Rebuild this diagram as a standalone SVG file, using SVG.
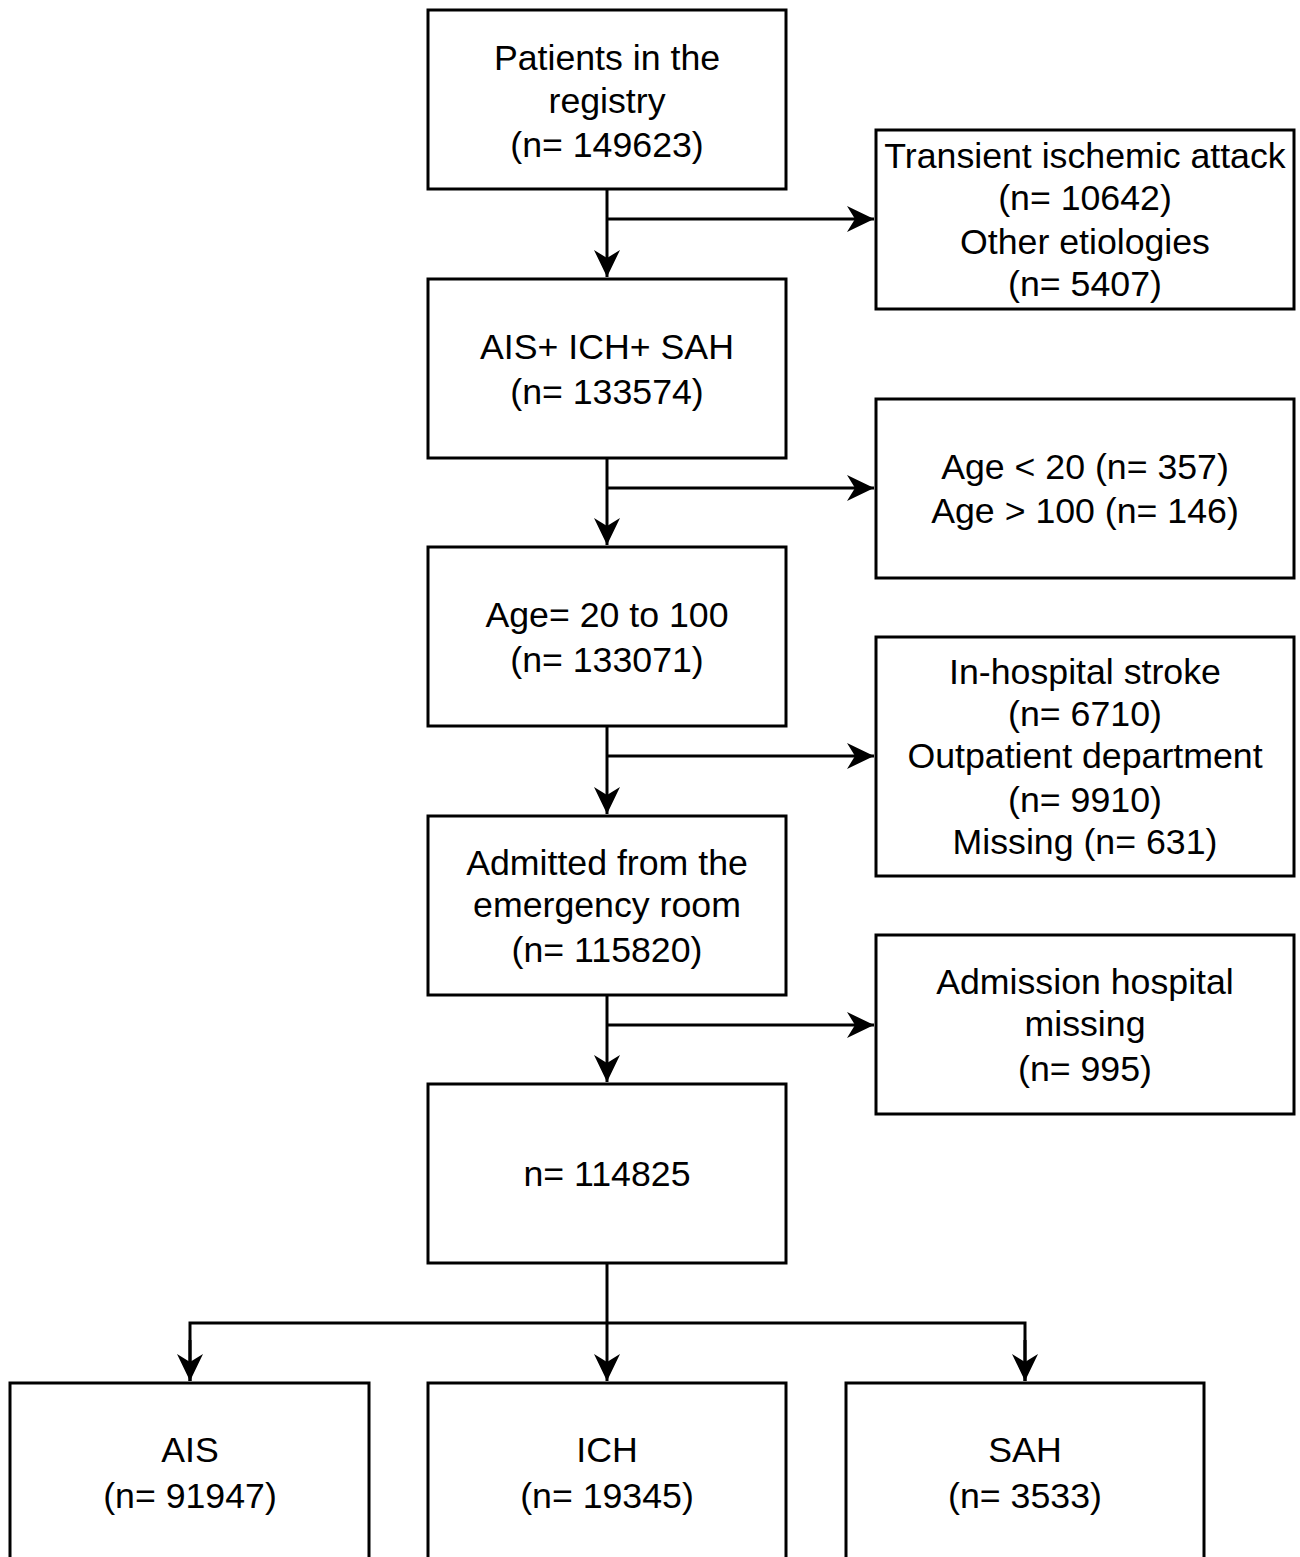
<svg xmlns="http://www.w3.org/2000/svg" width="1300" height="1557" viewBox="0 0 1300 1557">
<style>
.box{fill:#fff;stroke:#000;stroke-width:3}
.t{font-family:"Liberation Sans",Arial,sans-serif;font-size:35.7px;fill:#000;text-anchor:middle}
.c{fill:none;stroke:#000;stroke-width:3}
</style>
<defs>
<marker id="ah" markerUnits="userSpaceOnUse" markerWidth="30" markerHeight="30" viewBox="-28 -14 30 28" refX="0" refY="0" orient="auto">
<path d="M0,0 L-27,-13 L-19,0 L-27,13 Z" fill="#000"/>
</marker>
</defs>
<rect width="1300" height="1557" fill="#fff"/>
<g id="connectors">
<path class="c" d="M607,189 V277" marker-end="url(#ah)"/>
<path class="c" d="M607,219 H874" marker-end="url(#ah)"/>
<path class="c" d="M607,458 V545" marker-end="url(#ah)"/>
<path class="c" d="M607,488 H874" marker-end="url(#ah)"/>
<path class="c" d="M607,726 V814" marker-end="url(#ah)"/>
<path class="c" d="M607,756 H874" marker-end="url(#ah)"/>
<path class="c" d="M607,995 V1082" marker-end="url(#ah)"/>
<path class="c" d="M607,1025 H874" marker-end="url(#ah)"/>
<path class="c" d="M607,1263 V1381" marker-end="url(#ah)"/>
<path class="c" d="M190,1381 V1323 H1025 V1381"/>
<path class="c" d="M190,1340 V1381" marker-end="url(#ah)"/>
<path class="c" d="M1025,1340 V1381" marker-end="url(#ah)"/>
</g>
<g id="n1"><rect class="box" x="428" y="10" width="358" height="179"/>
<text class="t" x="607" y="70">Patients in the</text><text class="t" x="607" y="113">registry</text><text class="t" x="607" y="157">(n= 149623)</text></g>
<g id="r1"><rect class="box" x="876" y="130" width="418" height="179"/>
<text class="t" x="1085" y="168">Transient ischemic attack</text><text class="t" x="1085" y="210">(n= 10642)</text><text class="t" x="1085" y="254">Other etiologies</text><text class="t" x="1085" y="296">(n= 5407)</text></g>
<g id="n2"><rect class="box" x="428" y="279" width="358" height="179"/>
<text class="t" x="607" y="359">AIS+ ICH+ SAH</text><text class="t" x="607" y="404">(n= 133574)</text></g>
<g id="r2"><rect class="box" x="876" y="399" width="418" height="179"/>
<text class="t" x="1085" y="479">Age &lt; 20 (n= 357)</text><text class="t" x="1085" y="523">Age &gt; 100 (n= 146)</text></g>
<g id="n3"><rect class="box" x="428" y="547" width="358" height="179"/>
<text class="t" x="607" y="627">Age= 20 to 100</text><text class="t" x="607" y="672">(n= 133071)</text></g>
<g id="r3"><rect class="box" x="876" y="637" width="418" height="239"/>
<text class="t" x="1085" y="684">In-hospital stroke</text><text class="t" x="1085" y="726">(n= 6710)</text><text class="t" x="1085" y="768">Outpatient department</text><text class="t" x="1085" y="812">(n= 9910)</text><text class="t" x="1085" y="854">Missing (n= 631)</text></g>
<g id="n4"><rect class="box" x="428" y="816" width="358" height="179"/>
<text class="t" x="607" y="875">Admitted from the</text><text class="t" x="607" y="917">emergency room</text><text class="t" x="607" y="962">(n= 115820)</text></g>
<g id="r4"><rect class="box" x="876" y="935" width="418" height="179"/>
<text class="t" x="1085" y="994">Admission hospital</text><text class="t" x="1085" y="1036">missing</text><text class="t" x="1085" y="1081">(n= 995)</text></g>
<g id="n5"><rect class="box" x="428" y="1084" width="358" height="179"/>
<text class="t" x="607" y="1186">n= 114825</text></g>
<g id="ais"><rect class="box" x="10" y="1383" width="359" height="200"/>
<text class="t" x="190" y="1462">AIS</text><text class="t" x="190" y="1508">(n= 91947)</text></g>
<g id="ich"><rect class="box" x="428" y="1383" width="358" height="200"/>
<text class="t" x="607" y="1462">ICH</text><text class="t" x="607" y="1508">(n= 19345)</text></g>
<g id="sah"><rect class="box" x="846" y="1383" width="358" height="200"/>
<text class="t" x="1025" y="1462">SAH</text><text class="t" x="1025" y="1508">(n= 3533)</text></g>
</svg>
